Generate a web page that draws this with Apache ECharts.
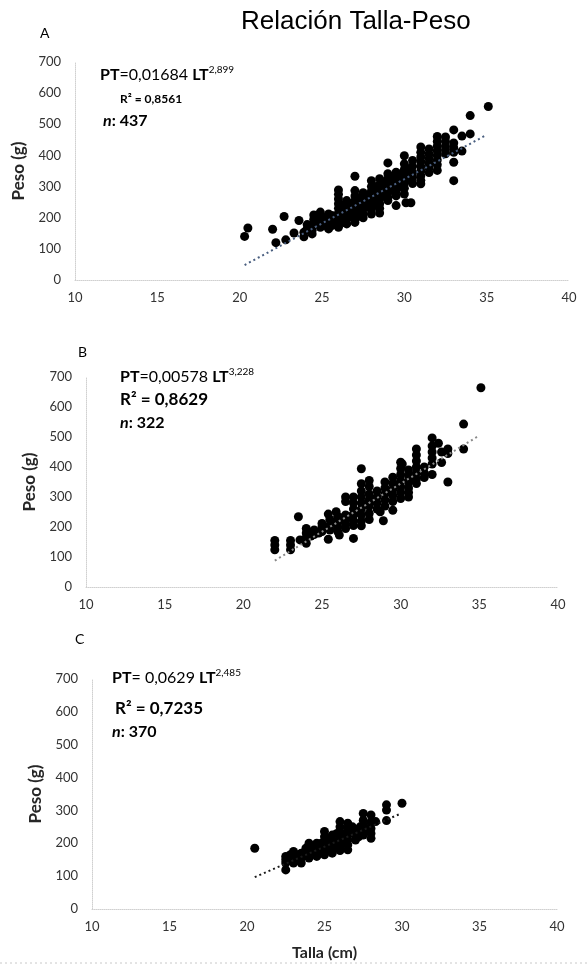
<!DOCTYPE html>
<html>
<head>
<meta charset="utf-8">
<script src="https://cdn.jsdelivr.net/npm/echarts@6/dist/echarts.min.js"></script>
<style>
html,body{margin:0;padding:0;background:#fff;}
#c{width:588px;height:965px;}
</style>
</head>
<body>
<div id="c"></div>
<script>
// ---------- data ----------
var xTicks = [10, 15, 20, 25, 30, 35, 40];
var yTicks = [0, 100, 200, 300, 400, 500, 600, 700];

var ptsA = [
[20.3,140],[20.5,167],[22.0,163],[22.2,120],[22.7,204],[22.8,129],[23.3,151],[23.6,191],
[23.9,153],[23.9,139],[24.1,178],[24.1,165],[24.4,148],[24.4,160],[24.5,209],[24.5,185],[24.5,195],
[24.9,218],[24.9,169],[24.9,180],[24.9,195],[25.1,201],[25.1,190],[25.1,175],[25.4,212],[25.4,164],[25.4,180],[25.4,195],[25.6,207],[25.6,190],[25.6,175],
[26.0,289],[26.0,275],[26.0,260],[26.0,245],[26.0,230],[26.0,215],[26.0,200],[26.0,185],[26.0,169],
[26.3,240],[26.3,220],[26.3,200],[26.3,185],
[26.5,255],[26.5,235],[26.5,215],[26.5,195],[26.5,180],
[26.7,244],[26.7,225],[26.7,205],
[27.0,333],[27.0,287],[27.0,270],[27.0,255],[27.0,240],[27.0,225],[27.0,210],[27.0,195],[27.0,185],
[27.3,265],[27.3,245],[27.3,225],[27.3,205],
[27.5,280],[27.5,262],[27.5,245],[27.5,228],[27.5,212],[27.5,200],
[27.8,270],[27.8,250],[27.8,235],
[28.0,319],[28.0,300],[28.0,285],[28.0,270],[28.0,255],[28.0,240],[28.0,225],[28.0,212],
[28.3,300],[28.3,280],[28.3,260],[28.3,240],
[28.5,325],[28.5,305],[28.5,290],[28.5,275],[28.5,260],[28.5,245],[28.5,230],[28.5,215],
[28.8,310],[28.8,290],[28.8,270],
[29.0,376],[29.0,341],[29.0,325],[29.0,310],[29.0,295],[29.0,280],[29.0,265],[29.0,255],
[29.3,330],[29.3,310],[29.3,290],
[29.5,346],[29.5,330],[29.5,315],[29.5,300],[29.5,285],[29.5,270],[29.5,239],
[29.8,340],[29.8,320],[29.8,300],
[30.0,399],[30.0,373],[30.0,355],[30.0,340],[30.0,325],[30.0,310],[30.0,295],[30.0,276],[30.1,248],
[30.4,248],[30.4,360],[30.4,340],[30.4,320],
[30.5,384],[30.5,365],[30.5,345],[30.5,330],[30.5,310],
[31.0,427],[31.0,410],[31.0,395],[31.0,380],[31.0,365],[31.0,350],[31.0,335],[31.0,320],[31.0,309],
[31.5,421],[31.5,405],[31.5,390],[31.5,375],[31.5,360],[31.5,345],
[32.0,461],[32.0,445],[32.0,430],[32.0,415],[32.0,400],[32.0,385],[32.0,370],[32.0,352],
[32.5,459],[32.5,445],[32.5,430],[32.5,418],[32.5,405],
[33.0,482],[33.0,440],[33.0,425],[33.0,410],[33.0,378],[33.0,319],
[33.5,462],[33.5,414],[34.0,528],[34.0,469],[35.1,557]
];
var trendA = [[20.3,48],[35.0,466]];

var ptsB = [
[22.0,155],[22.0,140],[22.0,124],[23.0,155],[23.0,140],[23.0,124],[23.5,234],[23.6,157],
[24.0,195],[24.0,180],[24.0,165],[24.0,146],[24.5,190],[24.5,175],[24.3,170],
[25.0,212],[25.0,200],[25.0,185],[25.4,243],[25.4,159],[24.8,180],
[25.5,225],[25.5,205],[25.5,190],[25.2,200],
[25.9,251],[26.0,235],[26.0,215],[26.0,200],[26.0,185],[26.1,173],[25.8,215],
[26.5,300],[26.5,285],[26.5,240],[26.5,225],[26.5,210],[26.5,195],[26.3,230],[26.8,235],
[27.0,300],[27.0,280],[27.0,260],[27.0,240],[27.0,220],[27.0,205],[27.0,162],[27.2,250],
[27.5,394],[27.5,344],[27.5,320],[27.5,300],[27.5,280],[27.5,260],[27.5,240],[27.5,220],[27.5,204],
[28.0,355],[28.0,335],[28.0,310],[28.0,290],[28.0,270],[28.0,245],[28.0,225],[27.8,275],
[28.5,320],[28.5,300],[28.5,280],[28.5,260],[28.7,251],[28.9,221],[28.3,290],
[29.0,350],[29.0,330],[29.0,310],[29.0,290],[29.0,270],[29.2,320],
[29.5,366],[29.5,345],[29.5,325],[29.5,305],[29.5,285],[29.5,256],[29.8,340],
[30.0,416],[30.0,395],[30.0,375],[30.0,355],[30.0,335],[30.0,315],[30.0,295],[30.1,410],
[30.5,390],[30.5,370],[30.5,350],[30.5,330],[30.5,315],[30.5,300],[30.8,360],
[31.0,460],[31.0,440],[31.0,420],[31.0,400],[31.0,380],[31.0,360],[31.0,345],
[31.5,400],[31.5,380],[31.5,365],
[32.0,497],[32.0,470],[32.0,450],[32.0,430],[32.0,410],[32.0,375],
[32.4,479],[32.6,450],[32.6,415],
[33.0,460],[33.0,445],[33.0,350],[34.0,543],[34.0,460],[35.1,664]
];
var trendB = [[22.0,88],[35.0,505]];

var ptsC = [
[20.5,185],[22.5,160],[22.5,150],[22.5,140],[22.5,119],[22.8,165],[22.8,150],
[23.0,175],[23.0,160],[23.0,145],[23.0,140],[23.3,165],[23.3,150],[23.5,170],[23.5,155],[23.5,140],[23.8,185],[23.8,165],
[24.0,200],[24.0,185],[24.0,170],[24.0,155],[24.3,190],[24.3,175],[24.5,200],[24.5,185],[24.5,170],[24.5,160],[24.8,200],[24.8,180],
[25.0,236],[25.0,220],[25.0,205],[25.0,190],[25.0,175],[25.0,165],[25.3,215],[25.3,190],
[25.5,225],[25.5,210],[25.5,195],[25.5,180],[25.5,170],[25.8,230],[25.8,200],
[26.0,266],[26.0,250],[26.0,235],[26.0,220],[26.0,205],[26.0,190],[26.0,178],[26.3,225],[26.3,200],
[26.5,261],[26.5,245],[26.5,230],[26.5,210],[26.5,195],[26.5,180],[26.8,250],[26.8,230],
[27.0,240],[27.0,225],[27.0,210],[27.2,220],[27.3,250],[27.3,230],
[27.5,291],[27.5,270],[27.5,255],[27.5,240],[27.5,225],[27.8,245],
[28.0,286],[28.0,265],[28.0,245],[28.0,230],[28.0,215],[28.3,266],
[29.0,317],[29.0,301],[29.0,269],[30.0,322]
];
var trendC = [[20.5,97],[29.9,290]];

// ---------- layout ----------
var grids = [
  {left: 75, top: 62, width: 494, height: 218},
  {left: 86, top: 377, width: 472, height: 210},
  {left: 92, top: 679, width: 465, height: 230}
];
var FONT = 'Lato, "Open Sans", sans-serif';

function xAx(i, withName) {
  var o = {
    type: 'value', gridIndex: i, min: xTicks[0], max: xTicks[xTicks.length-1], interval: 5,
    axisLine: {show: true, lineStyle: {color: '#d0d0d0', width: 1, type: 'dotted'}},
    axisTick: {show: false}, splitLine: {show: false},
    axisLabel: {fontSize: 13, color: '#333', fontFamily: FONT, margin: 11}
  };
  if (withName) {
    o.name = 'Talla (cm)'; o.nameLocation = 'middle'; o.nameGap = 36;
    o.nameTextStyle = {fontSize: 16, fontWeight: 'bold', color: '#262626', fontFamily: FONT};
  }
  return o;
}
function yAx(i, gap) {
  return {
    type: 'value', gridIndex: i, min: yTicks[0], max: yTicks[yTicks.length-1], interval: 100,
    axisLine: {show: true, lineStyle: {color: '#d0d0d0', width: 1, type: 'dotted'}},
    axisTick: {show: false}, splitLine: {show: false},
    axisLabel: {fontSize: 13, color: '#333', fontFamily: FONT, margin: 14},
    name: 'Peso (g)', nameLocation: 'middle', nameGap: gap,
    nameTextStyle: {fontSize: 17, fontWeight: 'bold', color: '#262626', fontFamily: FONT}
  };
}
function scat(i, d) {
  return {type: 'scatter', xAxisIndex: i, yAxisIndex: i, data: d, symbolSize: 9,
    itemStyle: {color: '#000', opacity: 1}, silent: true, z: 3};
}
function trend(i, d, col) {
  return {type: 'line', xAxisIndex: i, yAxisIndex: i, data: d, symbol: 'none', z: 4,
    lineStyle: {color: col, width: 2, type: [2, 3]}, silent: true};
}
function txt(x, y, text, rich) {
  return {type: 'text', left: x, top: y, style: {text: text, rich: rich, fontFamily: FONT, fill: '#000'}};
}
var richBig = {
  b: {fontSize: 16, fontWeight: 'bold', fontFamily: FONT, color: '#000', lineHeight: 20},
  r: {fontSize: 16, fontFamily: FONT, color: '#000', lineHeight: 20},
  s: {fontSize: 10, fontFamily: FONT, color: '#000', verticalAlign: 'top', lineHeight: 20},
  i: {fontSize: 16, fontWeight: 'bold', fontStyle: 'italic', fontFamily: FONT, color: '#000', lineHeight: 20},
  bs: {fontSize: 12, fontWeight: 'bold', fontFamily: FONT, color: '#000', lineHeight: 20},
  bl: {fontSize: 17, fontWeight: 'bold', fontFamily: FONT, color: '#000', lineHeight: 22}
};

var option = {
  animation: false,
  backgroundColor: '#fff',
  title: {text: 'Relación Talla-Peso', left: 236, top: 4,
    textStyle: {fontSize: 26, fontWeight: 'normal', color: '#000', fontFamily: '"Liberation Sans", Arial, sans-serif'}},
  grid: grids,
  xAxis: [xAx(0, false), xAx(1, false), xAx(2, true)],
  yAxis: [yAx(0, 44), yAx(1, 44), yAx(2, 44)],
  series: [
    scat(0, ptsA), trend(0, trendA, '#4a5f80'),
    scat(1, ptsB), trend(1, trendB, '#8a8a8a'),
    scat(2, ptsC), trend(2, trendC, '#1a1a1a')
  ],
  graphic: [
    {type: 'text', left: 40, top: 26, style: {text: 'A', fontSize: 14, fontFamily: FONT, fill: '#000'}},
    {type: 'text', left: 78, top: 345, style: {text: 'B', fontSize: 14, fontFamily: FONT, fill: '#000'}},
    {type: 'text', left: 75, top: 632, style: {text: 'C', fontSize: 14, fontFamily: FONT, fill: '#000'}},
    txt(100, 65, '{b|PT}{r|=0,01684 }{b|LT}{s|2,899}', richBig),
    txt(120, 93, '{bs|R² = 0,8561}', richBig),
    txt(103, 113, '{i|n}{b|: 437}', richBig),
    txt(120, 367, '{b|PT}{r|=0,00578 }{b|LT}{s|3,228}', richBig),
    txt(120, 391, '{bl|R² = 0,8629}', richBig),
    txt(120, 415, '{i|n}{b|: 322}', richBig),
    txt(112, 668, '{b|PT}{r|= 0,0629 }{b|LT}{s|2,485}', richBig),
    txt(115, 700, '{bl|R² = 0,7235}', richBig),
    txt(112, 724, '{i|n}{b|: 370}', richBig),
    {type: 'line', shape: {x1: 0, y1: 963, x2: 588, y2: 963}, style: {stroke: '#c8c8c8', lineWidth: 1, lineDash: [2, 3]}}
  ]
};
var chart = echarts.init(document.getElementById('c'));
chart.setOption(option);
</script>
</body>
</html>
